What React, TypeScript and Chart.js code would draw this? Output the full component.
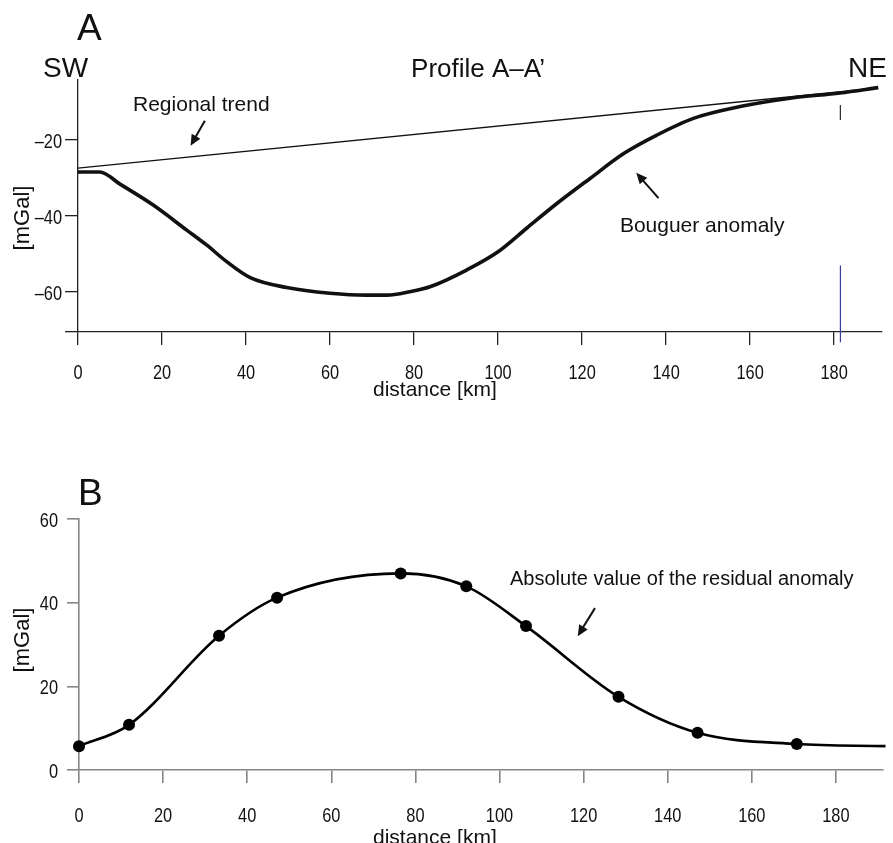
import React, { useEffect, useRef } from 'react';
import { Chart, registerables } from 'chart.js';

Chart.register(...registerables);

// ---------- Data: panel A (Profile A–A') ----------
const distanceA = [0, 5.2, 10, 17.9, 25.9, 30.6, 35.4, 41, 49.7, 60, 68.7, 73.5, 79, 83.8, 92.5, 100, 106.8, 114, 121.9, 130, 137.8, 146.5, 157.6, 169.5, 181.4, 190.5];
const bouguerAnomaly = [-28.4, -28.4, -31.6, -37.1, -43.7, -47.6, -52, -56.2, -58.8, -60.3, -60.8, -60.8, -59.9, -58.6, -54.2, -49.4, -43.2, -36.7, -30.1, -23.5, -18.7, -14.3, -11.2, -9.0, -7.6, -6.2];
const regionalDistance = [0, 190.5];
const regionalTrend = [-27.4, -6.3];
const markerDistance = [181.5, 181.5];
const blueMarker = [-53, -73.2];
const blackMarker = [-10.8, -14.7];
const xTicksKm = [0, 20, 40, 60, 80, 100, 120, 140, 160, 180];
const yTicksA = [-60, -40, -20];
const yRangeA = [-70.5, -4.2];
const xRangeA = [0, 191.4];

// ---------- Data: panel B (residual anomaly) ----------
const distanceB = [0, 11.9, 33.3, 47.1, 76.5, 92.1, 106.3, 128.3, 147.1, 170.7, 191.8];
const residualAbs = [5.7, 10.8, 32.1, 41.2, 47.0, 43.9, 34.4, 17.5, 8.9, 6.2, 5.7];
const yTicksB = [0, 20, 40, 60];
const yRangeB = [0, 60];
const xRangeB = [0, 191.2];

const FONT = "'Liberation Sans', Arial, Helvetica, sans-serif";
const INK = '#111111';

const fmt = (v: number) => (v < 0 ? '\u2013' + Math.abs(v) : String(v));

function txt(ctx: CanvasRenderingContext2D, s: string, x: number, y: number, size: number, align: CanvasTextAlign = 'left', baseline: CanvasTextBaseline = 'alphabetic', rot = 0, sx = 1) {
  ctx.save();
  ctx.fillStyle = INK;
  ctx.font = `${size}px ${FONT}`;
  ctx.textAlign = align;
  ctx.textBaseline = baseline;
  ctx.translate(x, y);
  if (rot) ctx.rotate(rot);
  if (sx !== 1) ctx.scale(sx, 1);
  ctx.fillText(s, 0, 0);
  ctx.restore();
}

function arrow(ctx: CanvasRenderingContext2D, x1: number, y1: number, x2: number, y2: number) {
  const a = Math.atan2(y2 - y1, x2 - x1);
  const L = 11, W = 5;
  ctx.save();
  ctx.strokeStyle = INK;
  ctx.fillStyle = INK;
  ctx.lineWidth = 2;
  ctx.beginPath();
  ctx.moveTo(x1, y1);
  ctx.lineTo(x2 - L * 0.7 * Math.cos(a), y2 - L * 0.7 * Math.sin(a));
  ctx.stroke();
  ctx.beginPath();
  ctx.moveTo(x2, y2);
  ctx.lineTo(x2 - L * Math.cos(a) + W * Math.sin(a), y2 - L * Math.sin(a) - W * Math.cos(a));
  ctx.lineTo(x2 - L * Math.cos(a) - W * Math.sin(a), y2 - L * Math.sin(a) + W * Math.cos(a));
  ctx.closePath();
  ctx.fill();
  ctx.restore();
}

// condensed tick labels drawn from the library's own scale ticks
function tickLabels(ctx: CanvasRenderingContext2D, scale: any, kind: 'x' | 'y', pos: number, skip?: number) {
  for (const t of scale.ticks) {
    if (skip !== undefined && t.value === skip) continue;
    const p = scale.getPixelForValue(t.value);
    if (kind === 'x') txt(ctx, fmt(t.value), p, pos, 21, 'center', 'alphabetic', 0, 0.78);
    else txt(ctx, fmt(t.value), pos, p + 7.5, 21, 'right', 'alphabetic', 0, 0.78);
  }
}

const pts = (xs: number[], ys: number[]) => xs.map((x, i) => ({ x, y: ys[i] }));

function axisCommon(color: string, width: number, tickLen: number) {
  return {
    grid: { drawOnChartArea: false, drawTicks: true, tickLength: tickLen, color, lineWidth: width },
    border: { display: true, color, width },
    ticks: { display: false, autoSkip: false },
  };
}

function ChartA() {
  const ref = useRef<HTMLCanvasElement>(null);
  useEffect(() => {
    const labels = {
      id: 'labelsA',
      afterDraw(chart: any) {
        const ctx = chart.ctx as CanvasRenderingContext2D;
        const sx = chart.scales.x, sy = chart.scales.y;
        const X = (v: number) => sx.getPixelForValue(v);
        const Y = (v: number) => sy.getPixelForValue(v);
        tickLabels(ctx, sx, 'x', sx.bottom - sx.height + 47);
        tickLabels(ctx, sy, 'y', sy.right - 16, yRangeA[0]);
        txt(ctx, 'A', 77, 40, 37);
        txt(ctx, 'SW', 43, 77, 28);
        txt(ctx, 'Profile A\u2013A\u2019', 478, 77, 26, 'center');
        txt(ctx, 'NE', 848, 77, 28);
        txt(ctx, 'Regional trend', X(13.1), Y(-12.4), 21);
        arrow(ctx, X(30.2), Y(-14.9), X(26.8), Y(-21.5));
        txt(ctx, 'Bouguer anomaly', X(129), Y(-44.2), 21);
        arrow(ctx, X(138.2), Y(-35.3), X(132.9), Y(-28.6));
        txt(ctx, '[mGal]', 23, 218, 22, 'center', 'middle', -Math.PI / 2);
        txt(ctx, 'distance [km]', 373, 396, 21);
      },
    };
    const chart = new Chart(ref.current!, {
      type: 'line',
      data: {
        datasets: [
          { data: pts(distanceA, bouguerAnomaly), borderColor: INK, borderWidth: 3.6, pointRadius: 0, cubicInterpolationMode: 'monotone', fill: false, clip: false } as any,
          { data: pts(regionalDistance, regionalTrend), borderColor: INK, borderWidth: 1.3, pointRadius: 0, tension: 0, fill: false, clip: false } as any,
          { data: pts(markerDistance, blueMarker), borderColor: '#3b3b9c', borderWidth: 1.2, pointRadius: 0, fill: false, clip: false } as any,
          { data: pts(markerDistance, blackMarker), borderColor: '#333333', borderWidth: 1, pointRadius: 0, fill: false, clip: false } as any,
        ],
      },
      options: {
        animation: false,
        responsive: false,
        events: [],
        layout: { padding: { top: 80, right: 11, left: 0, bottom: 0 } },
        plugins: { legend: { display: false }, tooltip: { enabled: false } },
        scales: {
          x: {
            type: 'linear', min: xRangeA[0], max: xRangeA[1],
            ...axisCommon('#222222', 1.3, 13),
            afterBuildTicks: (s: any) => { s.ticks = xTicksKm.map((v) => ({ value: v })); },
            afterFit: (s: any) => { s.height = 88; },
          },
          y: {
            type: 'linear', min: yRangeA[0], max: yRangeA[1],
            ...axisCommon('#222222', 1.3, 13),
            afterBuildTicks: (s: any) => { s.ticks = [yRangeA[0], ...yTicksA].map((v) => ({ value: v })); },
            afterFit: (s: any) => { s.width = 78; },
          },
        },
      } as any,
      plugins: [labels],
    });
    return () => chart.destroy();
  }, []);
  return <canvas ref={ref} width={893} height={420} style={{ position: 'absolute', left: 0, top: 0 }} />;
}

function ChartB() {
  const ref = useRef<HTMLCanvasElement>(null);
  useEffect(() => {
    const labels = {
      id: 'labelsB',
      afterDraw(chart: any) {
        const ctx = chart.ctx as CanvasRenderingContext2D;
        const sx = chart.scales.x, sy = chart.scales.y;
        const X = (v: number) => sx.getPixelForValue(v);
        const Y = (v: number) => sy.getPixelForValue(v);
        tickLabels(ctx, sx, 'x', sx.bottom - sx.height + 52);
        tickLabels(ctx, sy, 'y', sy.right - 21);
        txt(ctx, 'B', 78, 85, 37);
        txt(ctx, 'Absolute value of the residual anomaly', X(102.5), Y(44.2), 20);
        arrow(ctx, X(122.7), Y(38.7), X(118.6), Y(32.0));
        txt(ctx, '[mGal]', 23, 220, 22, 'center', 'middle', -Math.PI / 2);
        txt(ctx, 'distance [km]', 373, 424, 21);
      },
    };
    const radii = distanceB.map((_, i) => (i === distanceB.length - 1 ? 0 : 6));
    const chart = new Chart(ref.current!, {
      type: 'line',
      data: {
        datasets: [
          {
            data: pts(distanceB, residualAbs), borderColor: '#000000', borderWidth: 2.6,
            pointRadius: radii, pointBackgroundColor: '#000000', pointBorderWidth: 0,
            cubicInterpolationMode: 'monotone', fill: false, clip: false,
          } as any,
        ],
      },
      options: {
        animation: false,
        responsive: false,
        events: [],
        layout: { padding: { top: 99, right: 10, left: 0, bottom: 0 } },
        plugins: { legend: { display: false }, tooltip: { enabled: false } },
        scales: {
          x: {
            type: 'linear', min: xRangeB[0], max: xRangeB[1],
            ...axisCommon('#858585', 1.6, 13),
            afterBuildTicks: (s: any) => { s.ticks = xTicksKm.map((v) => ({ value: v })); },
            afterFit: (s: any) => { s.height = 73; },
          },
          y: {
            type: 'linear', min: yRangeB[0], max: yRangeB[1],
            ...axisCommon('#858585', 1.6, 12),
            afterBuildTicks: (s: any) => { s.ticks = yTicksB.map((v) => ({ value: v })); },
            afterFit: (s: any) => { s.width = 79; },
          },
        },
      } as any,
      plugins: [labels],
    });
    return () => chart.destroy();
  }, []);
  return <canvas ref={ref} width={893} height={423} style={{ position: 'absolute', left: 0, top: 420 }} />;
}

export default function App() {
  return (
    <div style={{ position: 'absolute', left: 0, top: 0, width: 893, height: 843, background: '#ffffff', overflow: 'hidden' }}>
      <ChartA />
      <ChartB />
    </div>
  );
}
